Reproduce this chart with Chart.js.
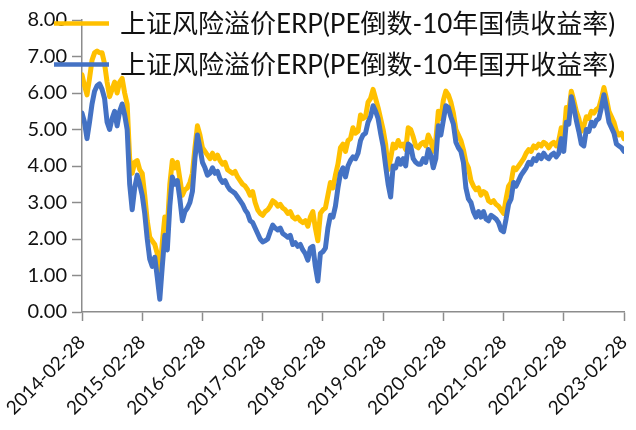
<!DOCTYPE html>
<html><head><meta charset="utf-8">
<script src="https://cdn.jsdelivr.net/npm/chart.js@4/dist/chart.umd.min.js"></script>
<style>html,body{margin:0;padding:0;background:#fff;}#wrap{width:636px;height:430px;}</style>
</head><body><div id="wrap"><canvas id="c" width="636" height="430"></canvas></div>
<script>
const seriesNames = ['上证风险溢价ERP(PE倒数-10年国债收益率)', '上证风险溢价ERP(PE倒数-10年国开收益率)'];
const xTickLabels = ['2014-02-28','2015-02-28','2016-02-28','2017-02-28','2018-02-28','2019-02-28','2020-02-28','2021-02-28','2022-02-28','2023-02-28'];
const pointsPerYear = 24; // half-monthly readings
// ERP vs 10Y government bond yield (gold)
const erpGov = [
 6.5,6.2,5.95,6.4,6.9,7.1,7.15,7.1,7.1,6.8,6.3,5.9,6.1,6.3,6.0,6.3,6.4,6.0,5.7,4.2,3.8,4.1,4.15,3.9,
 3.8,3.2,2.5,2.05,1.95,1.85,1.6,1.0,1.9,2.6,2.3,3.5,4.15,3.95,4.1,3.65,3.2,3.35,3.4,3.55,3.8,4.5,5.1,4.85,
 4.5,4.4,4.3,4.2,4.35,4.2,4.3,4.15,4.05,4.1,3.9,3.85,3.8,3.85,3.7,3.6,3.5,3.45,3.35,3.2,3.3,3.0,2.8,2.7,
 2.65,2.75,2.8,2.9,3.05,3.0,2.9,2.95,2.85,2.8,2.7,2.75,2.6,2.55,2.6,2.5,2.45,2.5,2.35,2.6,2.75,2.3,1.95,2.7,
 2.8,2.85,3.2,3.55,3.4,3.75,4.05,4.5,4.6,4.4,4.7,4.75,5.05,4.9,4.95,5.4,5.3,5.35,5.75,5.85,6.1,5.85,5.6,5.3,
 5.0,4.6,3.9,4.2,4.6,4.5,4.7,4.55,4.6,4.45,5.05,5.0,4.8,4.55,4.5,4.6,4.65,4.55,4.85,4.7,4.4,4.7,5.5,5.3,
 5.8,6.05,5.95,5.75,5.45,5.0,4.85,4.7,4.45,4.1,3.95,3.6,3.45,3.35,3.4,3.2,3.3,3.25,3.05,3.0,3.05,2.95,2.9,2.8,
 2.7,3.1,3.45,3.55,3.95,3.9,4.0,4.1,4.2,4.35,4.45,4.4,4.55,4.5,4.6,4.55,4.65,4.6,4.5,4.6,4.65,4.55,4.7,5.05,
 4.75,5.6,5.5,6.05,5.8,5.5,5.3,4.95,5.1,5.35,5.3,5.5,5.45,5.55,5.6,5.85,6.15,5.85,5.5,5.35,5.2,4.95,4.85,4.9,
 4.75
];
// ERP vs 10Y CDB bond yield (blue)
const erpCdb = [
 5.45,5.2,4.75,5.2,5.7,6.05,6.2,6.25,6.1,5.85,5.2,5.0,5.3,5.5,5.1,5.5,5.7,5.4,5.0,3.5,2.8,3.4,3.75,3.5,
 3.2,2.7,2.0,1.45,1.25,1.5,0.95,0.35,1.25,2.1,1.7,2.9,3.7,3.5,3.6,3.1,2.5,2.75,2.85,3.0,3.3,4.2,4.85,4.5,
 4.1,3.95,3.75,3.8,3.95,3.8,3.85,3.65,3.55,3.6,3.45,3.35,3.3,3.25,3.15,3.05,2.95,2.8,2.7,2.5,2.45,2.3,2.15,2.0,
 1.92,1.95,2.0,2.2,2.38,2.3,2.25,2.3,2.15,2.1,2.05,2.1,1.85,1.9,1.8,1.85,1.7,1.6,1.42,1.75,1.8,1.25,0.85,1.6,
 1.65,1.75,2.3,2.65,2.6,2.9,3.4,3.8,3.95,3.7,4.0,4.15,4.25,4.2,4.35,4.7,4.85,4.9,5.2,5.35,5.65,5.5,5.3,4.9,
 4.55,4.0,3.5,3.15,4.0,3.95,4.2,4.05,4.2,4.0,4.6,4.55,4.2,4.1,4.05,4.05,4.2,4.1,4.45,4.3,3.95,4.2,5.1,4.85,
 5.25,5.65,5.6,5.35,5.15,4.65,4.5,4.4,4.1,3.4,3.1,3.0,2.75,2.6,2.75,2.6,2.75,2.55,2.5,2.65,2.6,2.55,2.45,2.25,
 2.2,2.55,2.95,3.1,3.55,3.45,3.6,3.75,3.85,3.95,4.1,4.05,4.2,4.15,4.3,4.2,4.35,4.25,4.2,4.3,4.35,4.25,4.35,4.75,
 4.4,5.2,5.15,5.9,5.6,5.25,4.95,4.6,4.55,5.0,4.95,5.2,5.1,5.25,5.3,5.6,5.95,5.6,5.2,5.05,4.9,4.6,4.55,4.5,
 4.4
];
const colors = ['#FFC000', '#4472C4'];
const textColor = '#111111';
const axisColor = '#8c8c8c';

const legendPlugin = {
  id: 'stackedLegend',
  afterDraw(chart) {
    const ctx = chart.ctx;
    const rows = [23.5, 64.5];
    chart.data.datasets.forEach((ds, i) => {
      const y = rows[i];
      ctx.save();
      ctx.strokeStyle = ds.borderColor;
      ctx.lineWidth = 4.5;
      ctx.beginPath(); ctx.moveTo(54, y); ctx.lineTo(109, y); ctx.stroke();
      ctx.fillStyle = textColor;
      ctx.font = '26px Lato, "Noto Sans CJK SC", sans-serif';
      ctx.textBaseline = 'middle';
      ctx.textAlign = 'left';
      ctx.fillText(ds.label, 120, y + 1);
      ctx.restore();
    });
  }
};

const toPoints = arr => arr.map((v, i) => ({x: i, y: v}));

new Chart(document.getElementById('c'), {
  type: 'line',
  data: {
    datasets: [
      {label: seriesNames[0], data: toPoints(erpGov), borderColor: colors[0], backgroundColor: colors[0], borderWidth: 5, pointRadius: 0, tension: 0, borderJoinStyle: 'round', borderCapStyle: 'round', order: 2},
      {label: seriesNames[1], data: toPoints(erpCdb), borderColor: colors[1], backgroundColor: colors[1], borderWidth: 5, pointRadius: 0, tension: 0, borderJoinStyle: 'round', borderCapStyle: 'round', order: 1}
    ]
  },
  options: {
    responsive: false,
    devicePixelRatio: 1,
    animation: false,
    layout: {padding: {top: 20, right: 12, left: 0, bottom: 0}},
    plugins: {legend: {display: false}, tooltip: {enabled: false}},
    scales: {
      x: {
        type: 'linear', min: 0, max: (xTickLabels.length - 1) * pointsPerYear,
        afterBuildTicks(s) { s.ticks = xTickLabels.map((_, i) => ({value: i * pointsPerYear})); },
        ticks: {autoSkip: false, maxRotation: 45, minRotation: 45, padding: 10, color: textColor,
          font: {family: 'Lato', size: 19},
          callback: v => xTickLabels[Math.round(v / pointsPerYear)]},
        grid: {display: true, drawOnChartArea: false, drawTicks: true, tickLength: 9, tickColor: axisColor, tickWidth: 1.5},
        border: {display: true, color: axisColor, width: 1.5},
        afterFit(s) { s.height = 118; s.paddingLeft = 0; s.paddingRight = 0; }
      },
      y: {
        min: 0, max: 8,
        ticks: {stepSize: 1, padding: 5, color: textColor, font: {family: 'Lato', size: 20}, callback: v => Number(v).toFixed(2)},
        grid: {display: true, drawOnChartArea: false, drawTicks: true, tickLength: 10, tickColor: axisColor, tickWidth: 1.5},
        border: {display: true, color: axisColor, width: 1.5},
        afterFit(s) { s.width = 82; }
      }
    }
  },
  plugins: [legendPlugin]
});
</script>
</body></html>
